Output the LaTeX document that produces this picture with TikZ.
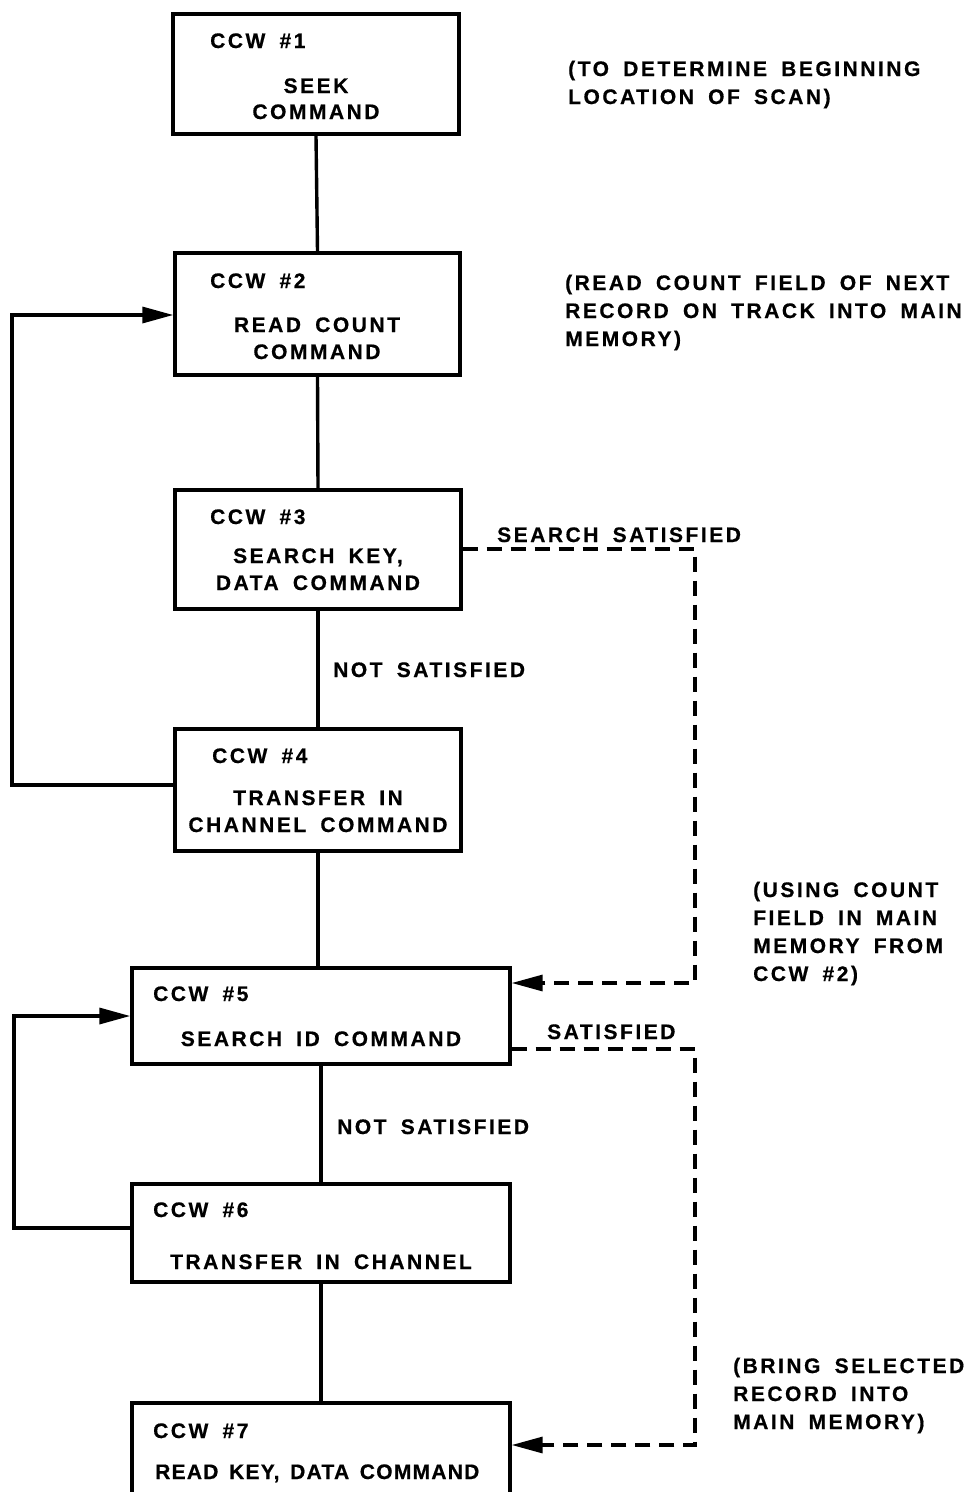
\documentclass[tikz,border=0pt]{standalone}
\usepackage{fontspec}
\setmainfont{Liberation Sans}[LetterSpace=12, WordSpace=1.7, BoldFeatures={FakeBold=0.6}]
\newfontfamily\tightfont{Liberation Sans}[LetterSpace=6, WordSpace=1.5, BoldFeatures={FakeBold=0.6}]
\usetikzlibrary{arrows.meta}
\begin{document}
\begin{tikzpicture}[x=1pt,y=-1pt,
  every node/.style={font=\fontsize{21}{28}\selectfont\bfseries, inner sep=0pt},
  box/.style={draw, line width=3.4pt, minimum width=#1, inner sep=0pt},
  ln/.style={line width=3.4pt},
  dsh/.style={line width=3.2pt, dash pattern=on 15pt off 9pt},
  arr/.style={-{Triangle[length=31pt,width=16pt]}},
  txt/.style={anchor=base west},
  ctr/.style={anchor=base},
  cmt/.style={anchor=base west, align=left}]
\useasboundingbox (0,0) rectangle (969,1492);
\begin{scope}
\clip (0,0) rectangle (969,1492);
% boxes
\node[box=286pt, minimum height=120pt] (b1) at (316,74) {};
\node[box=285pt, minimum height=122pt] (b2) at (317.5,314) {};
\node[box=286pt, minimum height=119pt] (b3) at (318,549.5) {};
\node[box=286pt, minimum height=122pt] (b4) at (318,790) {};
\node[box=378pt, minimum height=96pt] (b5) at (321,1016) {};
\node[box=378pt, minimum height=98pt] (b6) at (321,1233) {};
\node[box=378pt, minimum height=130pt] (b7) at (321,1468) {};
\end{scope}
% box texts
\node[txt] (t1a) at (210,48) {CCW \#1};
\node[ctr] (t1b) at (316,93) {SEEK};
\node[ctr] (t1c) at (316,119) {COMMAND};
\node[txt] (t2a) at (210,288) {CCW \#2};
\node[ctr] (t2b) at (317,332) {READ COUNT};
\node[ctr] (t2c) at (317,359) {COMMAND};
\node[txt] (t3a) at (210,524) {CCW \#3};
\node[ctr] (t3b) at (318,563) {SEARCH KEY,};
\node[ctr] (t3c) at (318,590) {DATA COMMAND};
\node[txt] (t4a) at (212,763) {CCW \#4};
\node[ctr] (t4b) at (318,805) {TRANSFER IN};
\node[ctr] (t4c) at (318,832) {CHANNEL COMMAND};
\node[txt] (t5a) at (153,1001) {CCW \#5};
\node[ctr] (t5b) at (321,1046) {SEARCH ID COMMAND};
\node[txt] (t6a) at (153,1217) {CCW \#6};
\node[ctr] (t6b) at (321,1269) {TRANSFER IN CHANNEL};
\node[txt] (t7a) at (153,1438) {CCW \#7};
\node[txt, font=\fontsize{21}{28}\tightfont\bfseries] (t7b) at (155,1479) {READ KEY, DATA COMMAND};
% vertical connectors
\draw[ln] (b1.south) -- (b2.north);
\draw[ln] (b2.south) -- (b3.north);
\draw[ln] (b3.south) -- (b4.north);
\draw[ln] (b4.south) -- (b4.south |- b5.north);
\draw[ln] (b5.south) -- (b6.north);
\draw[ln] (b6.south) -- (b7.north);
% loops
\coordinate (l1a) at (12,785);
\coordinate (l1b) at (12,315);
\draw[ln, arr] (b4.west |- l1a) -- (l1a) -- (l1b) -- (b2.west |- l1b);
\coordinate (l2a) at (14,1228);
\coordinate (l2b) at (14,1016);
\draw[ln, arr] (b6.west |- l2a) -- (l2a) -- (l2b) -- (b5.west |- l2b);
% dashed
\coordinate (d1a) at (695,549);
\coordinate (d1b) at (695,983);
\draw[dsh, arr] (b3.east |- d1a) -- (d1a) -- (d1b) -- (b5.east |- d1b);
\coordinate (d2a) at (695,1049);
\coordinate (d2b) at (695,1445);
\draw[dsh, arr] (b5.east |- d2a) -- (d2a) -- (d2b) -- (b7.east |- d2b);
% labels
\node[txt] (ns1) at (333,677) {NOT SATISFIED};
\node[txt] (ns2) at (337,1134) {NOT SATISFIED};
\node[txt] (ss) at (497,542) {SEARCH SATISFIED};
\node[txt] (s2) at (547,1039) {SATISFIED};
% comments (base = baseline of last line)
\node[cmt] (c1) at (568,104) {(TO DETERMINE BEGINNING\\ LOCATION OF SCAN)};
\node[cmt] (c2) at (565,346) {(READ COUNT FIELD OF NEXT\\ RECORD ON TRACK INTO MAIN\\ MEMORY)};
\node[cmt] (c3) at (753,981) {(USING COUNT\\ FIELD IN MAIN\\ MEMORY FROM\\ CCW \#2)};
\node[cmt] (c4) at (733,1429) {(BRING SELECTED\\ RECORD INTO\\ MAIN MEMORY)};
\end{tikzpicture}
\end{document}
